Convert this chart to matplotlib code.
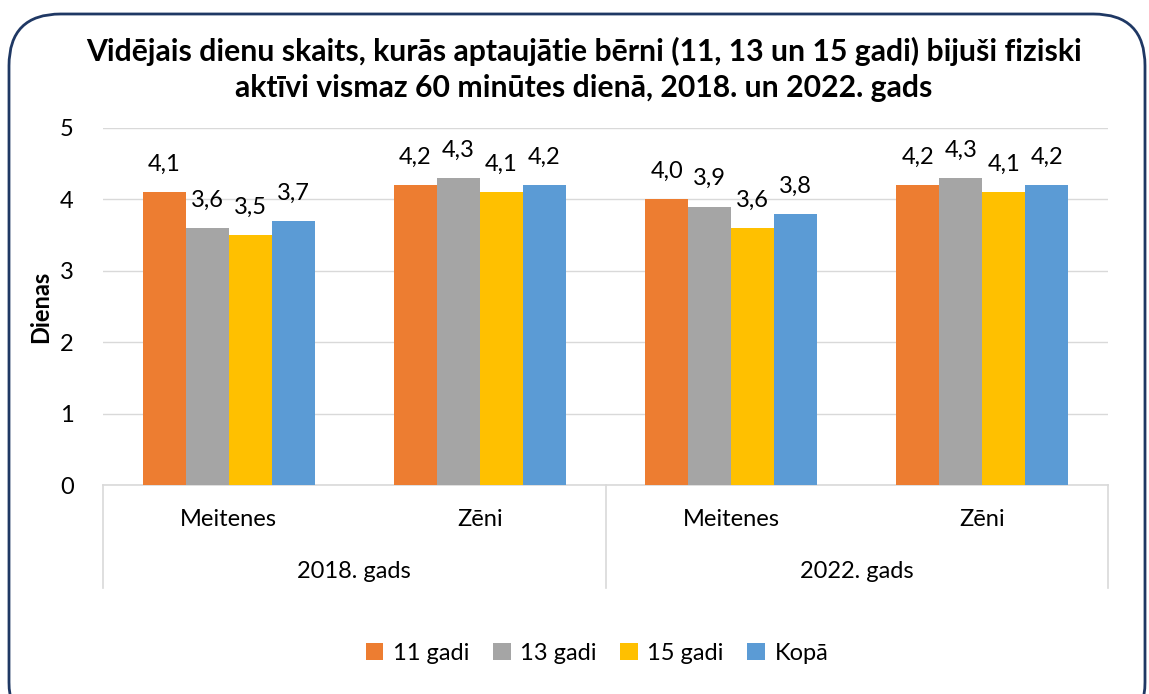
import matplotlib
matplotlib.use("Agg")
import matplotlib.pyplot as plt
from matplotlib.patches import FancyBboxPatch
import matplotlib.transforms as mtransforms

plt.rcParams['font.family'] = ['Lato', 'DejaVu Sans']

categories = ["Meitenes", "Zēni", "Meitenes", "Zēni"]
groups = ["2018. gads", "2022. gads"]
series_names = ["11 gadi", "13 gadi", "15 gadi", "Kopā"]
v11 = [4.1, 4.2, 4.0, 4.2]
v13 = [3.6, 4.3, 3.9, 4.3]
v15 = [3.5, 4.1, 3.6, 4.1]
vkopa = [3.7, 4.2, 3.8, 4.2]
yticks = [0, 1, 2, 3, 4, 5]
colors = ["#ED7D31", "#A5A5A5", "#FFC000", "#5B9BD5"]

W, H = 1149, 694
fig = plt.figure(figsize=(W / 100, H / 100), dpi=100)

# rounded border
border = FancyBboxPatch((9 / W, -40 / H), (1136 / W), (H + 26) / H,
                        boxstyle="round,pad=0,rounding_size=0.045",
                        transform=fig.transFigure, fill=False,
                        edgecolor="#1F3864", linewidth=2.0,
                        mutation_aspect=W / H)
fig.patches.append(border)

ax = fig.add_axes([103 / W, 1 - 485 / H, (1108 - 103) / W, (485 - 128) / H])

series = [v11, v13, v15, vkopa]
bw = 0.171
x = list(range(len(categories)))
for i, (vals, c, name) in enumerate(zip(series, colors, series_names)):
    off = (i - 1.5) * bw
    xs = [xi + off for xi in x]
    ax.bar(xs, vals, width=bw, color=c, label=name, zorder=3)
    for xx, v in zip(xs, vals):
        ax.annotate(f"{v:.1f}".replace(".", ","), (xx, v), xytext=(0, 20),
                    textcoords="offset points", ha="center", va="center",
                    fontsize=17, color="#000000")

ax.set_xlim(-0.5, 3.5)
ax.set_ylim(0, 5)
ax.set_yticks(yticks)
ax.set_yticklabels([str(t) for t in yticks], fontsize=17)
ax.tick_params(axis='y', length=0, pad=21)
ax.set_xticks([])
ax.grid(axis='y', color="#D9D9D9", linewidth=1, zorder=0)
for s in ["top", "right", "left"]:
    ax.spines[s].set_visible(False)
ax.spines["bottom"].set_color("#D9D9D9")
ax.spines["bottom"].set_linewidth(1.2)
ax.set_ylabel("Dienas", fontsize=17, fontweight="bold")
ax.yaxis.set_label_coords((52 - 103) / (1108 - 103), 0.5)

trans = mtransforms.blended_transform_factory(ax.transData, ax.transAxes)
axh = (485 - 128)
for xv in [-0.5, 1.5, 3.5]:
    ax.plot([xv, xv], [0, -(588 - 485) / axh], transform=trans, color="#D9D9D9",
            linewidth=1.2, clip_on=False)
for xi, cat in zip(x, categories):
    ax.text(xi, -(520 - 485) / axh, cat, transform=trans, ha="center", va="center",
            fontsize=17)
for gi, g in enumerate(groups):
    ax.text(gi * 2 + 0.5, -(571 - 485) / axh, g, transform=trans, ha="center",
            va="center", fontsize=17)

fig.text(584 / W, 1 - 51 / H, "Vidējais dienu skaits, kurās aptaujātie bērni (11, 13 un 15 gadi) bijuši fiziski",
         ha="center", va="center", fontsize=21.7, fontweight="bold")
fig.text(584 / W, 1 - 88 / H, "aktīvi vismaz 60 minūtes dienā, 2018. un 2022. gads",
         ha="center", va="center", fontsize=21.7, fontweight="bold")

fig.legend(loc="center", bbox_to_anchor=(597 / W, 1 - 653 / H), ncol=4,
           frameon=False, fontsize=17, handlelength=0.75, handleheight=0.75,
           handletextpad=0.4, columnspacing=1.0)

fig.savefig("out.png", dpi=100)
